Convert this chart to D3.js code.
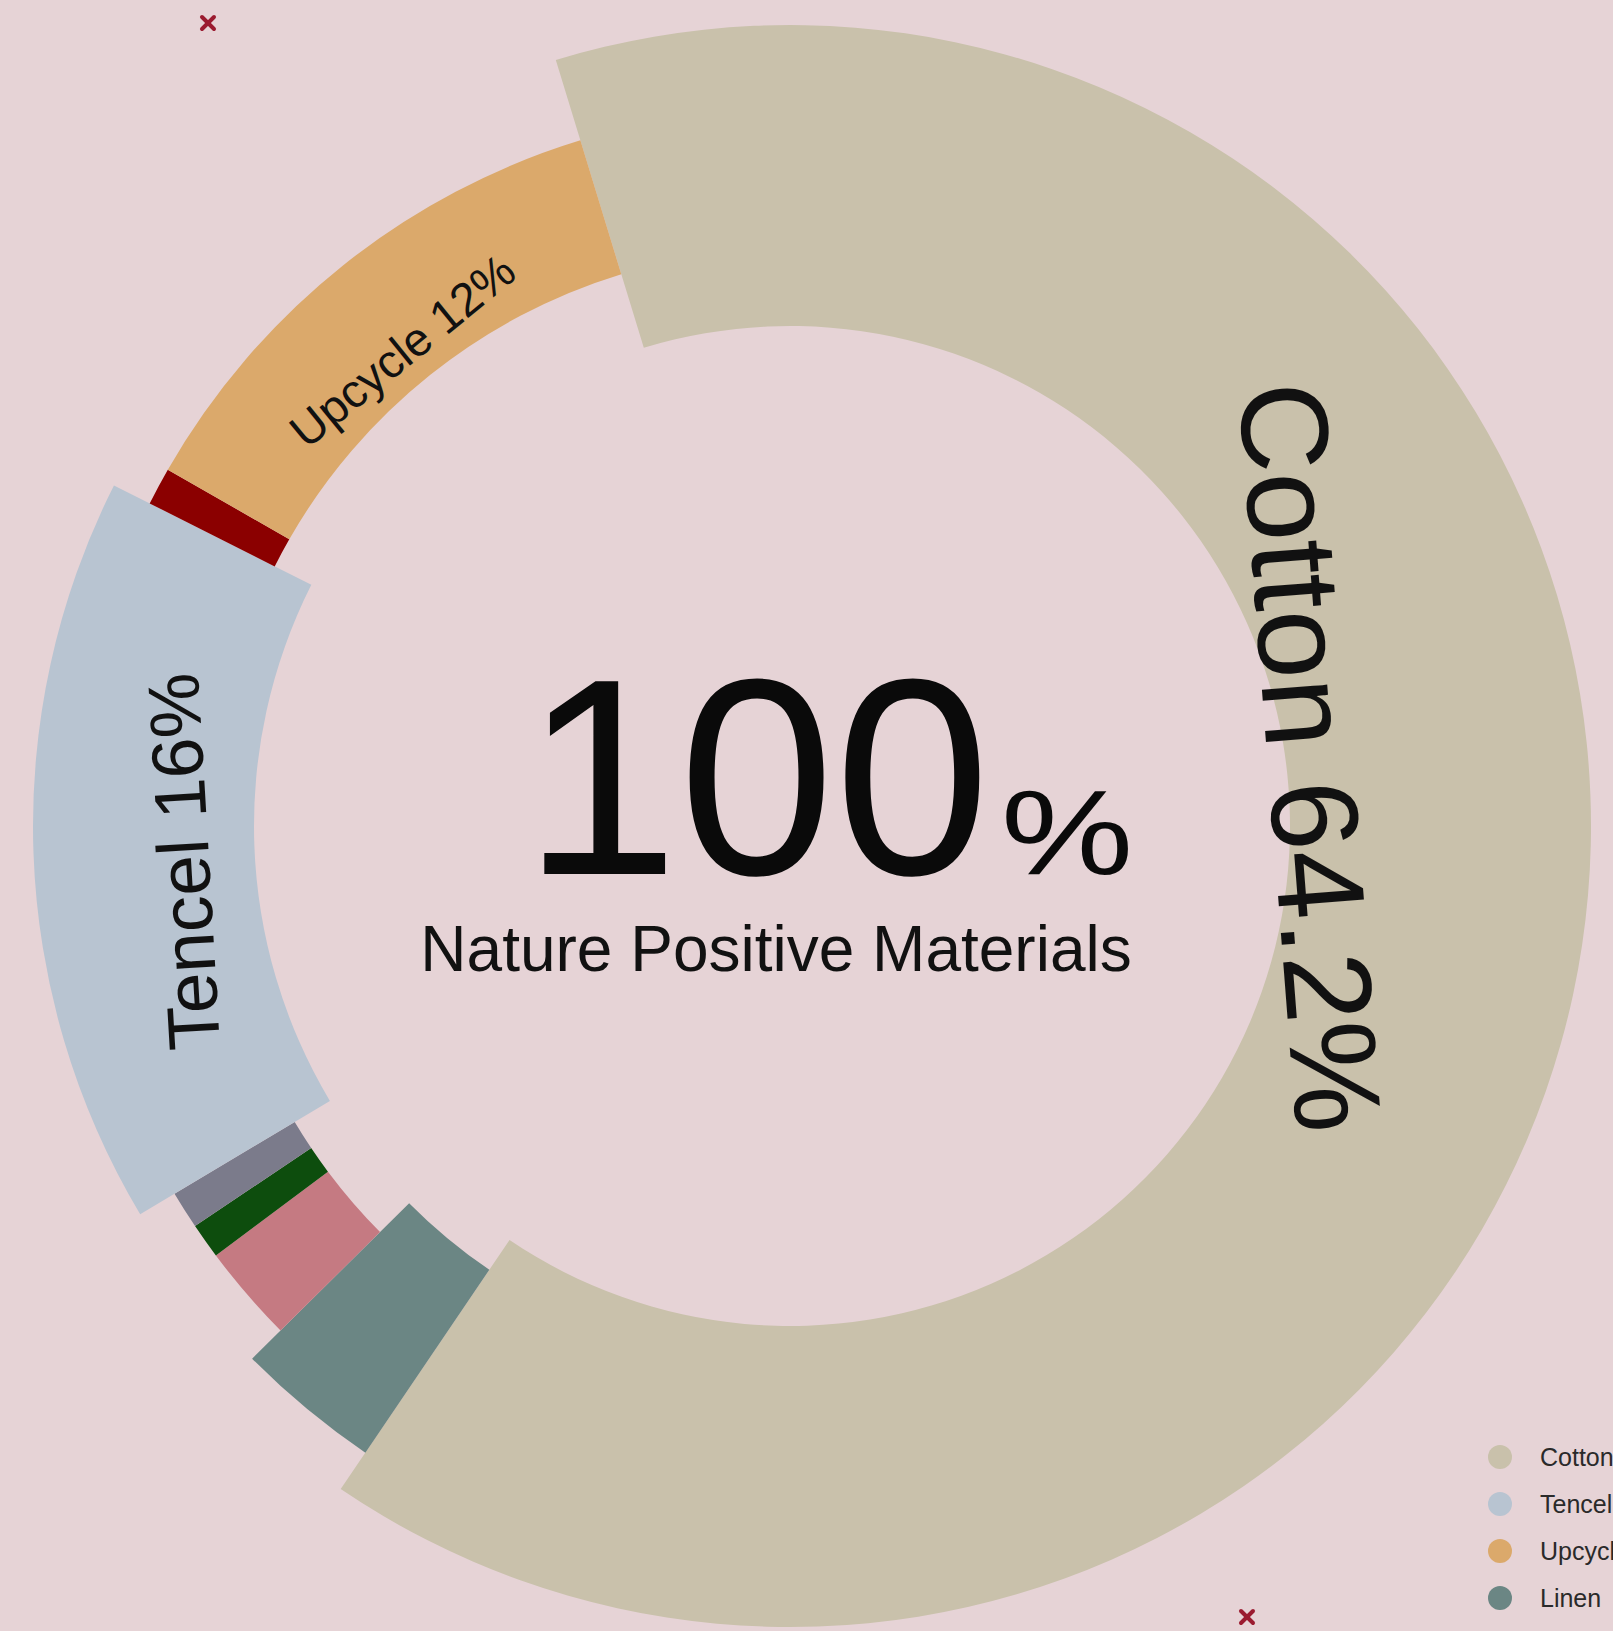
<!DOCTYPE html>
<html>
<head>
<meta charset="utf-8">
<script src="https://cdn.jsdelivr.net/npm/d3@7"></script>
<style>
  html, body { margin: 0; padding: 0; background: #e6d3d6; overflow: hidden; }
  svg { display: block; font-family: "Liberation Sans", Arial, sans-serif; }
</style>
</head>
<body>
<div id="chart"></div>
<script>
// slices in drawing order (clockwise, starting top-left)
const materials = ["Cotton", "Linen", "Hemp", "Recycled Wool", "Organic Silk", "Tencel", "Deadstock", "Upcycle"];
const shares = [64.2, 3.1, 2.2, 0.8, 0.85, 16, 0.85, 12];
const palette = ["#c9c1ab", "#6b8684", "#c57a82", "#0d4d0d", "#7b7b8b", "#b8c4d1", "#8b0000", "#dba96b"];
// the legend lists materials by share
const legendOrder = ["Cotton", "Tencel", "Upcycle", "Linen", "Hemp", "Organic Silk", "Deadstock", "Recycled Wool"];

const width = 1613, height = 1631;
const cx = 790, cy = 826;
const start = -17.0; // degrees, clockwise from 12 o'clock

const svg = d3.select("#chart").append("svg")
  .attr("width", width)
  .attr("height", height);

svg.append("rect").attr("width", width).attr("height", height).attr("fill", "#e6d3d6");

const color = d3.scaleOrdinal().domain(materials).range(palette);

// three ring thicknesses
const ring = name => {
  if (name === "Cotton") return [500, 801];
  if (name === "Tencel" || name === "Linen") return [536, 757];
  return [577, 717];
};

const data = materials.map((m, i) => ({ name: m, value: shares[i] }));

const pie = d3.pie()
  .sort(null)
  .value(d => d.value)
  .startAngle(start * Math.PI / 180)
  .endAngle((360 + start) * Math.PI / 180);

const arc = d3.arc()
  .innerRadius(d => ring(d.data.name)[0])
  .outerRadius(d => ring(d.data.name)[1]);

const g = svg.append("g").attr("transform", `translate(${cx},${cy})`);

const slices = pie(data);

g.selectAll("path.slice")
  .data(slices)
  .join("path")
  .attr("class", "slice")
  .attr("d", arc)
  .attr("fill", d => color(d.data.name));

// labels along the ring, tops facing outward
const labelSpec = {
  Cotton: { size: 124, r: 482, shift: -16.4, tilt: 3.4 },
  Tencel: { size: 73, r: 582, shift: -1.3, tilt: 0 },
  Upcycle: { size: 47, r: 597, shift: -0.6, tilt: 0 }
};

g.selectAll("text.slice-label")
  .data(slices.filter(d => labelSpec[d.data.name]))
  .join("text")
  .attr("class", "slice-label")
  .attr("transform", d => {
    const s = labelSpec[d.data.name];
    const a = (d.startAngle + d.endAngle) / 2 * 180 / Math.PI + s.shift;
    return `rotate(${a}) translate(0,${-s.r}) rotate(${s.tilt})`;
  })
  .attr("text-anchor", "middle")
  .attr("font-size", d => labelSpec[d.data.name].size)
  .attr("fill", "#111")
  .text(d => `${d.data.name} ${d.data.value}%`);

// centre text
svg.append("text")
  .attr("x", 523)
  .attr("y", 874)
  .attr("font-size", 280)
  .attr("fill", "#0a0a0a")
  .text("100");

svg.append("text")
  .attr("transform", "translate(1001,874) scale(1.24,1)")
  .attr("font-size", 120)
  .attr("fill", "#0a0a0a")
  .text("%");

svg.append("text")
  .attr("x", 776)
  .attr("y", 971)
  .attr("text-anchor", "middle")
  .attr("font-size", 64)
  .attr("fill", "#111")
  .text("Nature Positive Materials");

// legend (runs off the right / bottom edge)
const legend = svg.append("g").attr("transform", "translate(1500,1457)");
const item = legend.selectAll("g")
  .data(legendOrder)
  .join("g")
  .attr("transform", (d, i) => `translate(0,${i * 47})`);
item.append("circle").attr("r", 12).attr("fill", d => color(d));
item.append("text")
  .attr("x", 40)
  .attr("dy", "0.35em")
  .attr("font-size", 25)
  .attr("fill", "#2a2a2a")
  .text(d => d);

// small corner markers
const markers = [[208, 23], [1247, 1617]];
const mk = svg.selectAll("g.marker")
  .data(markers)
  .join("g")
  .attr("class", "marker")
  .attr("transform", d => `translate(${d[0]},${d[1]})`)
  .attr("stroke", "#9b1b30")
  .attr("stroke-width", 4)
  .attr("stroke-linecap", "round");
mk.append("line").attr("x1", -6).attr("y1", -6).attr("x2", 6).attr("y2", 6);
mk.append("line").attr("x1", -6).attr("y1", 6).attr("x2", 6).attr("y2", -6);
</script>
</body>
</html>
